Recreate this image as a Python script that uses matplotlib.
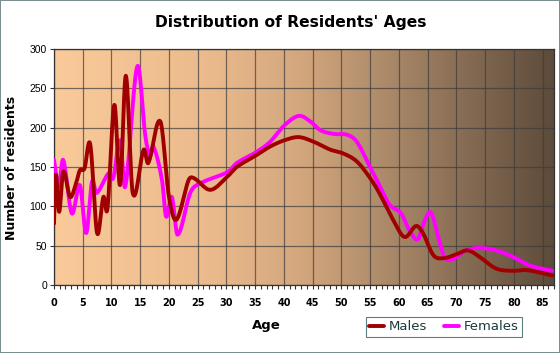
import numpy as np
import matplotlib
matplotlib.use("Agg")
import matplotlib.pyplot as plt
from matplotlib.colors import LinearSegmentedColormap
from matplotlib.ticker import MultipleLocator

# values (age, number of residents)
male_ages = [0, 0.3, 0.9, 1.6, 2.8, 3.8, 4.5, 5.3, 6.3, 7.5, 8.6, 9.3, 10.5, 11.5,
             12.5, 13.7, 15.6, 16.4, 18.5, 20.0, 21.3, 23.4, 24.3, 27.2, 30.2,
             31.8, 35.2, 37.6, 40.1, 42.6, 45.2, 48.1, 50.4, 52.7, 55.0, 56.6,
             59.0, 61.0, 63.0, 64.2, 66.0, 67.7, 70.0, 72.0, 74.0, 76.9, 79.8,
             82.1, 84.4, 86.7]
male_counts = [78, 140, 93, 144, 112, 128, 146, 148, 179, 66, 112, 97, 229, 127,
               266, 117, 172, 155, 208, 112, 83, 133, 136, 121, 138,
               150, 165, 176, 184, 188, 182, 172, 167, 157, 136, 117,
               83, 61, 75, 66, 38, 34, 39, 44, 36, 21, 18,
               19, 16, 12]

female_ages = [0, 0.8, 1.6, 3.1, 4.5, 5.6, 6.6, 7.4, 9.5, 10.3, 11.5, 12.4, 14.5,
               15.9, 16.7, 17.3, 18.8, 19.5, 20.5, 21.5, 23.7, 25.4, 30.3, 31.8,
               35.2, 37.6, 40.1, 42.6, 44.6, 46.3, 48.7, 51.0, 52.7, 55.0, 56.6,
               58.4, 60.4, 61.8, 63.3, 64.4, 65.6, 67.0, 67.9, 69.1, 71.7, 74.0,
               76.9, 79.8, 82.7, 86.7]
female_counts = [159, 125, 159, 91, 127, 66, 131, 117, 142, 136, 184, 125, 278,
                 189, 165, 176, 133, 87, 112, 64, 117, 129, 144, 155,
                 169, 182, 203, 215, 208, 197, 192, 191, 182, 150, 127,
                 102, 91, 70, 58, 80, 92, 57, 36, 32, 44, 47,
                 44, 36, 25, 18]

x_ticks = list(range(0, 90, 5))
y_ticks = list(range(0, 350, 50))


def smooth(xs, ys, steps=16):
    # cubic hermite curve through the read points
    xs = np.asarray(xs, float)
    ys = np.asarray(ys, float)
    m = np.zeros_like(ys)
    m[1:-1] = (ys[2:] - ys[:-2]) / (xs[2:] - xs[:-2])
    m[0] = (ys[1] - ys[0]) / (xs[1] - xs[0])
    m[-1] = (ys[-1] - ys[-2]) / (xs[-1] - xs[-2])
    out_x, out_y = [], []
    for i in range(len(xs) - 1):
        h = xs[i + 1] - xs[i]
        t = np.linspace(0, 1, steps, endpoint=False)
        h00 = 2 * t**3 - 3 * t**2 + 1
        h10 = t**3 - 2 * t**2 + t
        h01 = -2 * t**3 + 3 * t**2
        h11 = t**3 - t**2
        out_x.extend(xs[i] + t * h)
        out_y.extend(h00 * ys[i] + h10 * h * m[i] + h01 * ys[i + 1] + h11 * h * m[i + 1])
    out_x.append(xs[-1])
    out_y.append(ys[-1])
    return np.array(out_x), np.array(out_y)


fig = plt.figure(figsize=(5.6, 3.53), dpi=100)
fig.patch.set_facecolor("white")
fig.patch.set_edgecolor("#7a9090")
fig.patch.set_linewidth(1.2)

ax = fig.add_axes([54 / 560, 68 / 353, 500 / 560, 236 / 353])
ax.set_xlim(0, 87)
ax.set_ylim(0, 300)

# peach to brown gradient behind the plot
bg = LinearSegmentedColormap.from_list(
    "bg",
    [(0.0, "#fbca9a"), (0.3, "#ecbb8d"), (0.5, "#d2a67d"),
     (0.68, "#a88767"), (1.0, "#5d4b3b")],
)
grad = np.linspace(0, 1, 256).reshape(1, -1)
ax.imshow(grad, cmap=bg, aspect="auto", extent=[0, 87, 0, 300], zorder=0)

ax.set_xticks(x_ticks)
ax.set_yticks(y_ticks)
ax.xaxis.set_minor_locator(MultipleLocator(1))
ax.grid(True, which="major", color="#3c3c3c", alpha=0.7, linewidth=0.9, zorder=1)
ax.tick_params(axis="both", which="both", direction="out", length=3, width=0.8,
               color="#333333", labelsize=7.5, pad=2)
ax.tick_params(axis="x", which="major", pad=6)
for spine in ax.spines.values():
    spine.set_color("#333333")
    spine.set_linewidth(0.9)

fx, fy = smooth(female_ages, female_counts)
mx, my = smooth(male_ages, male_counts)
ax.plot(fx, fy, color="#ff00ff", linewidth=2.8, label="Females", zorder=3,
        solid_capstyle="round")
ax.plot(mx, my, color="#a00000", linewidth=2.8, label="Males", zorder=4,
        solid_capstyle="round")

for lab in ax.get_yticklabels():
    lab.set_fontfamily("Liberation Sans")
for lab in ax.get_xticklabels():
    lab.set_fontfamily("DejaVu Sans")
    lab.set_fontweight("bold")
    lab.set_fontsize(7)

fig.text(291 / 560, 1 - 23 / 353, "Distribution of Residents' Ages",
         ha="center", va="center", fontsize=11.2, fontweight="bold",
         family="DejaVu Sans")
fig.text(12 / 560, 1 - 168 / 353, "Number of residents", rotation=90,
         ha="center", va="center", fontsize=9, fontweight="bold",
         family="DejaVu Sans")
fig.text(266 / 560, 1 - 325 / 353, "Age", ha="center", va="center",
         fontsize=9.5, fontweight="bold", family="DejaVu Sans")

handles, labels = ax.get_legend_handles_labels()
leg = fig.legend(handles[::-1], labels[::-1], loc="center",
                 bbox_to_anchor=(444 / 560, 1 - 327 / 353), ncol=2,
                 frameon=True, fancybox=False, handlelength=1.1,
                 handletextpad=0.4, columnspacing=1.3, borderpad=0.25,
                 prop={"family": "DejaVu Sans", "size": 9.5})
leg.get_frame().set_edgecolor("#2f5f5f")
leg.get_frame().set_linewidth(0.8)
leg.get_frame().set_facecolor("none")
for t in leg.get_texts():
    t.set_color("#1a3a3a")

fig.savefig("out.png", dpi=100)
